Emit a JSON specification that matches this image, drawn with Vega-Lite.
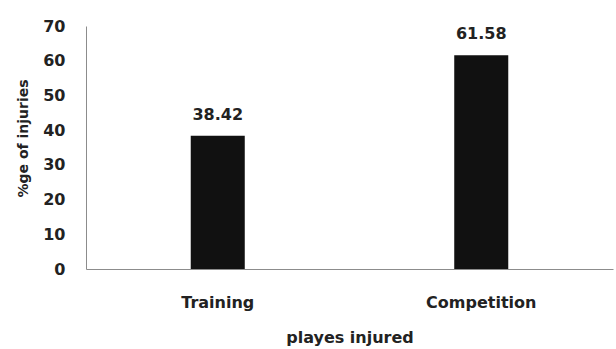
{
  "$schema": "https://vega.github.io/schema/vega-lite/v6.json",
  "autosize": {"type": "none"},
  "padding": {"left": 86, "top": 26, "right": 3, "bottom": 80},
  "width": 527,
  "height": 243,
  "background": "white",
  "config": {
    "view": {"stroke": null},
    "font": "DejaVu Sans",
    "axis": {
      "labelFont": "DejaVu Sans",
      "labelFontWeight": "bold",
      "labelFontSize": 16,
      "labelColor": "#222222",
      "titleFont": "DejaVu Sans",
      "titleFontWeight": "bold",
      "titleColor": "#222222",
      "domainColor": "#8c8c8c",
      "domainWidth": 1,
      "ticks": false,
      "grid": false
    }
  },
  "data": {
    "values": [
      {"session": "Training", "pct": 38.42},
      {"session": "Competition", "pct": 61.58}
    ]
  },
  "encoding": {
    "x": {
      "field": "session",
      "type": "nominal",
      "sort": ["Training", "Competition"],
      "scale": {"paddingInner": 0, "paddingOuter": 0},
      "axis": {
        "title": "playes injured",
        "labelAngle": 0,
        "labelPadding": 25,
        "titleFontSize": 16,
        "titlePadding": 19
      }
    },
    "y": {
      "field": "pct",
      "type": "quantitative",
      "scale": {"domain": [0, 70], "nice": false},
      "axis": {
        "title": "%ge of injuries",
        "values": [0, 10, 20, 30, 40, 50, 60, 70],
        "labelPadding": 21,
        "titleFontSize": 14,
        "titlePadding": 12,
        "titleY": 112
      }
    }
  },
  "layer": [
    {
      "mark": {"type": "bar", "color": "#111111", "width": {"band": 0.205}}
    },
    {
      "mark": {
        "type": "text",
        "baseline": "alphabetic",
        "dy": -16,
        "font": "DejaVu Sans",
        "fontWeight": "bold",
        "fontSize": 16,
        "color": "#222222"
      },
      "encoding": {
        "text": {"field": "pct", "type": "quantitative", "format": ".2f"}
      }
    }
  ]
}
